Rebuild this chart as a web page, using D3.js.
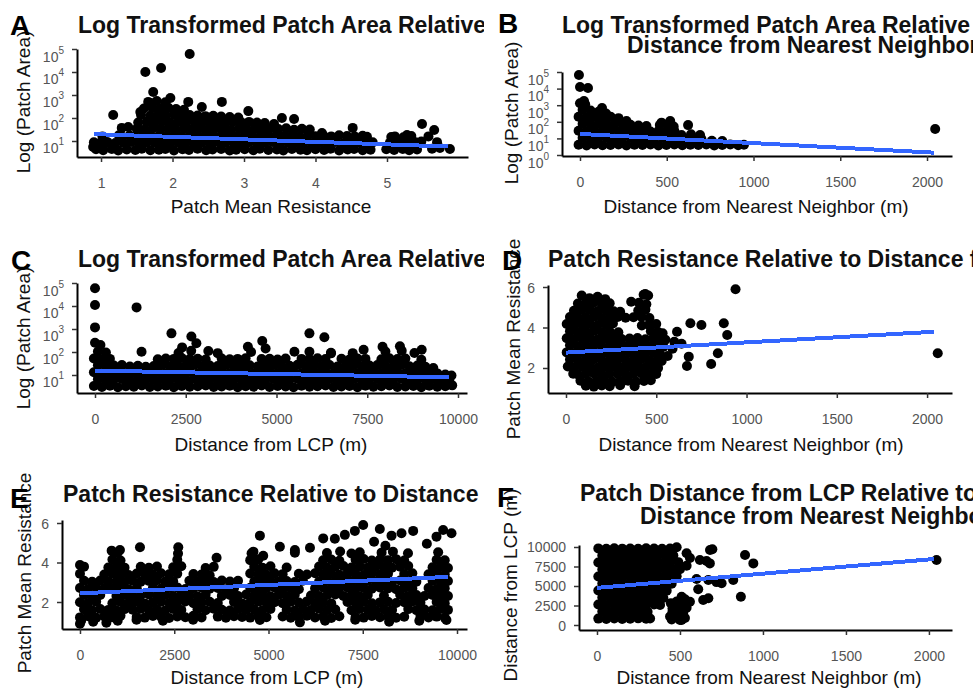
<!DOCTYPE html>
<html>
<head>
<meta charset="utf-8">
<script src="https://cdn.jsdelivr.net/npm/d3@7"></script>
<style>
  body { margin: 0; background: #fff; }
  svg { display: block; font-family: "Liberation Sans", Arial, sans-serif; }
</style>
</head>
<body>
<svg id="fig" width="973" height="688"></svg>
<script>
// ---------------- data ----------------
// Panel A: [patch mean resistance, log10 patch area]
const resistanceLogArea = [
[0.93,0.64],[1.03,0.60],[1.15,0.65],[1.24,0.59],[1.36,0.63],[1.48,0.61],[1.57,0.66],[1.69,0.60],[1.81,0.62],[1.90,0.65],[2.02,0.59],[2.14,0.64],[2.23,0.61],[2.35,0.66],[2.47,0.60],[2.56,0.63],[2.68,0.65],[2.80,0.59],[2.89,0.62],[3.01,0.64],[3.13,0.60],[3.22,0.66],[3.34,0.61],[3.46,0.63],[3.55,0.59],[3.67,0.65],[3.79,0.62],[3.88,0.60],[4.00,0.64],[4.12,0.61],[4.21,0.66],[4.33,0.59],[4.45,0.63],[4.54,0.65],[4.66,0.60],[4.77,0.62],[4.99,0.64],[5.10,0.61],[5.22,0.65],[5.31,0.60],[5.42,0.63],[5.63,0.66],[5.74,0.70],
[0.90,0.94],[0.98,0.90],[1.09,0.95],[1.20,0.91],[1.31,0.93],[1.42,0.96],[1.53,0.90],[1.64,0.94],[1.75,0.92],[1.86,0.96],[1.97,0.89],[2.08,0.93],[2.19,0.95],[2.30,0.91],[2.41,0.94],[2.52,0.90],[2.63,0.96],[2.74,0.92],[2.85,0.93],[2.96,0.89],[3.07,0.95],[3.18,0.91],[3.29,0.94],[3.40,0.96],[3.51,0.90],[3.62,0.93],[3.73,0.92],[3.84,0.95],[3.95,0.89],[4.06,0.94],[4.17,0.91],[4.28,0.96],[4.39,0.90],[4.50,0.93],[4.61,0.95],[4.72,0.91],[4.80,0.94],[5.04,0.92],[5.15,0.96],[5.26,0.90],[5.37,0.94],[5.48,0.98],
[1.02,1.20],[1.29,1.21],[1.40,1.24],[1.47,1.19],[1.58,1.23],[1.69,1.25],[1.80,1.20],[1.91,1.22],[2.02,1.25],[2.13,1.19],[2.24,1.23],[2.35,1.21],[2.46,1.25],[2.57,1.20],[2.68,1.24],[2.79,1.22],[2.90,1.19],[3.01,1.25],[3.12,1.21],[3.23,1.23],[3.34,1.20],[3.45,1.24],[3.56,1.22],[3.67,1.25],[3.78,1.19],[3.89,1.23],[4.00,1.21],[4.11,1.24],[4.22,1.20],[4.33,1.25],[4.44,1.22],[4.55,1.19],[4.66,1.23],[4.72,1.18],[5.11,1.20],[5.23,1.16],[5.34,1.22],
[1.50,1.53],[1.61,1.50],[1.72,1.54],[1.83,1.51],[1.94,1.55],[2.05,1.49],[2.16,1.53],[2.27,1.51],[2.38,1.55],[2.49,1.50],[2.60,1.54],[2.71,1.52],[2.82,1.49],[2.93,1.55],[3.04,1.51],[3.15,1.53],[3.26,1.50],[3.37,1.54],[3.48,1.52],[3.59,1.55],[3.70,1.49],[3.81,1.53],[3.92,1.50],
[1.52,1.80],[1.64,1.84],[1.75,1.81],[1.86,1.85],[1.97,1.79],[2.08,1.83],[2.19,1.81],[2.30,1.85],[2.41,1.80],[2.52,1.84],[2.63,1.82],[2.74,1.79],[2.85,1.85],[2.96,1.81],[3.07,1.83],[3.18,1.80],[3.29,1.78],[3.42,1.74],
[1.56,2.13],[1.69,2.10],[1.80,2.14],[1.91,2.11],[2.02,2.15],[2.13,2.09],[2.24,2.13],[2.35,2.11],[2.46,2.08],[2.57,2.10],[2.68,2.06],[2.80,2.04],[2.92,2.02],
[1.60,2.41],[1.72,2.44],[1.83,2.40],[1.94,2.45],[2.05,2.39],[2.16,2.36],
[1.66,2.70],[1.78,2.74],[1.90,2.68],
[2.24,4.78],[1.62,4.00],[1.84,4.17],[1.17,2.13],[1.73,3.13],[1.69,2.65],[1.97,2.87],[2.22,2.70],[2.41,2.48],[2.69,2.70],[3.06,2.30],[3.53,2.00],[3.70,1.96],[5.49,1.74],[5.66,1.48],[5.06,1.17],[5.28,1.26],[5.88,0.65],[0.89,0.74],[1.29,1.57],[1.38,1.61],[1.55,2.26],[4.52,1.57],[4.09,1.35],[5.58,1.20],[5.70,0.95],[5.40,0.95],[1.25,1.25],[1.08,0.95]
];

// Panel B: [distance from nearest neighbor (m), log10 patch area]
const neighborLogArea = [
[-8,0.62],[38,0.58],[84,0.63],[130,0.59],[176,0.61],[222,0.64],[268,0.58],[314,0.62],[360,0.60],[406,0.63],[452,0.58],[498,0.61],[544,0.64],[590,0.59],[636,0.62],[682,0.60],[728,0.63],[774,0.58],[820,0.61],[866,0.64],[912,0.59],[945,0.62],
[15,1.04],[61,1.00],[107,1.03],[153,1.05],[199,0.99],[245,1.02],[291,1.04],[337,1.00],[383,1.03],[429,1.01],[475,1.05],[521,0.99],[560,1.02],[610,0.98],[660,1.00],[700,0.96],[760,0.86],[820,0.84],
[-8,1.46],[38,1.42],[84,1.45],[130,1.41],[176,1.47],[222,1.43],[268,1.44],[314,1.40],[360,1.46],[406,1.42],[452,1.45],[498,1.41],[544,1.44],[585,1.20],[640,1.25],
[15,1.88],[61,1.84],[107,1.87],[153,1.83],[199,1.89],[245,1.85],[291,1.82],[337,1.78],[383,1.74],[460,1.80],[505,1.84],[540,1.72],
[-8,2.30],[38,2.26],[84,2.29],[130,2.25],[176,2.31],[222,2.22],[268,2.05],
[15,2.72],[61,2.68],[107,2.60],[150,2.50],
[0,3.12],[30,3.05],
[-6,4.82],[0,4.10],[46,4.04],[23,3.25],[127,2.83],[623,1.80],[692,1.20],[2047,1.57],[520,2.05],[470,1.95]
];

// Panel C: [distance from LCP (m), log10 patch area]
const lcpLogArea = [
[-30,0.52],[190,0.48],[410,0.53],[630,0.47],[850,0.51],[1070,0.49],[1290,0.54],[1510,0.48],[1730,0.50],[1950,0.53],[2170,0.47],[2390,0.52],[2610,0.49],[2830,0.51],[3050,0.54],[3270,0.48],[3490,0.50],[3710,0.53],[3930,0.47],[4150,0.51],[4370,0.49],[4590,0.54],[4810,0.48],[5030,0.52],[5250,0.50],[5470,0.47],[5690,0.53],[5910,0.49],[6130,0.51],[6350,0.54],[6570,0.48],[6790,0.50],[7010,0.52],[7230,0.47],[7450,0.53],[7670,0.49],[7890,0.51],[8110,0.54],[8330,0.48],[8550,0.50],[8770,0.52],[8990,0.47],[9210,0.53],[9430,0.49],[9650,0.51],[9840,0.55],
[80,0.82],[300,0.78],[520,0.81],[740,0.83],[960,0.77],[1180,0.80],[1400,0.82],[1620,0.79],[1840,0.83],[2060,0.78],[2280,0.81],[2500,0.80],[2720,0.84],[2940,0.77],[3160,0.81],[3380,0.79],[3600,0.83],[3820,0.78],[4040,0.80],[4260,0.82],[4480,0.77],[4700,0.81],[4920,0.83],[5140,0.79],[5360,0.80],[5580,0.84],[5800,0.78],[6020,0.81],[6240,0.79],[6460,0.83],[6680,0.77],[6900,0.80],[7120,0.82],[7340,0.78],[7560,0.81],[7780,0.83],[8000,0.79],[8220,0.80],[8440,0.84],[8660,0.78],[8880,0.81],[9100,0.79],[9320,0.83],[9540,0.80],[9760,0.82],
[-30,1.12],[190,1.08],[410,1.11],[630,1.13],[850,1.07],[1070,1.10],[1290,1.12],[1510,1.09],[1730,1.13],[1950,1.08],[2170,1.11],[2390,1.10],[2610,1.14],[2830,1.07],[3050,1.11],[3270,1.09],[3490,1.13],[3710,1.08],[3930,1.10],[4150,1.12],[4370,1.07],[4590,1.11],[4810,1.13],[5030,1.09],[5250,1.10],[5470,1.14],[5690,1.08],[5910,1.11],[6130,1.09],[6350,1.13],[6570,1.07],[6790,1.10],[7010,1.12],[7230,1.08],[7450,1.11],[7670,1.13],[7890,1.09],[8110,1.10],[8330,1.14],[8550,1.08],[8770,1.11],[8990,1.09],[9210,1.13],[9430,1.07],[9650,1.02],[9820,0.98],
[80,1.42],[300,1.38],[520,1.41],[740,1.43],[960,1.37],[1180,1.40],[1400,1.36],[1620,1.39],[1840,1.43],[2060,1.38],[2280,1.41],[2500,1.40],[2720,1.44],[2940,1.37],[3160,1.41],[3380,1.39],[3600,1.43],[3820,1.38],[4040,1.40],[4260,1.42],[4480,1.37],[4700,1.41],[4920,1.43],[5140,1.39],[5360,1.40],[5580,1.44],[5800,1.38],[6020,1.41],[6240,1.39],[6460,1.43],[6680,1.37],[6900,1.40],[7120,1.42],[7340,1.38],[7560,1.41],[7780,1.43],[8000,1.39],[8220,1.40],[8440,1.44],[8660,1.38],[8880,1.41],[9100,1.36],[9320,1.30],
[-30,1.72],[190,1.68],[410,1.70],[1730,1.68],[1950,1.72],[2170,1.70],[2390,1.74],[2610,1.69],[2830,1.71],[3050,1.67],[3490,1.72],[3710,1.68],[3930,1.70],[4150,1.73],[4590,1.69],[4810,1.71],[5030,1.67],[5250,1.72],[5690,1.70],[5910,1.68],[6130,1.73],[6350,1.69],[6790,1.71],[7010,1.67],[7230,1.72],[7450,1.70],[7890,1.68],[8110,1.73],[8330,1.69],[8550,1.72],[8990,1.66],
[80,2.02],[300,1.98],[2300,1.96],[2650,2.05],[3380,1.95],[4300,2.00],[6500,1.97],[7100,1.95],[8000,2.02],[8450,2.05],[8800,1.96],
[0,4.77],[0,4.04],[0,3.07],[1145,3.94],[1282,2.01],[2106,2.81],[2655,2.67],[2793,2.38],[4607,2.48],[5907,2.81],[5907,2.01],[6319,2.64],[5494,2.01],[6502,1.94],[7921,2.23],[4212,2.23],[0,2.40],[150,2.30],[3122,2.04],[8400,2.25],[9000,2.10],[2400,2.20],[7400,2.10],[4700,2.15]
];

// Panel D: [distance from nearest neighbor (m), patch mean resistance]
const neighborResistance = [
[87,5.58],[130,5.45],[175,5.52],[217,5.40],[430,5.62],[455,5.58],
[66,5.18],[110,5.21],[154,5.24],[198,5.17],[242,5.20],[361,5.27],[404,5.22],[445,5.15],
[44,4.83],[88,4.86],[132,4.88],[176,4.82],[220,4.85],[264,4.80],[300,4.78],[400,4.84],[440,4.88],
[22,4.52],[66,4.48],[110,4.51],[154,4.53],[198,4.47],[242,4.50],[286,4.52],[330,4.48],[374,4.51],[418,4.53],[462,4.47],
[4,4.17],[44,4.13],[88,4.16],[132,4.18],[176,4.12],[220,4.15],[260,4.20],[420,4.10],[460,4.13],[500,4.17],
[22,3.82],[66,3.78],[110,3.81],[154,3.83],[198,3.77],[242,3.80],[290,3.76],[470,3.82],[510,3.78],[535,3.72],
[4,3.47],[44,3.43],[88,3.46],[132,3.48],[176,3.42],[220,3.45],[264,3.47],[308,3.43],[352,3.46],[396,3.48],[440,3.42],[484,3.45],[528,3.47],[550,3.40],
[22,3.12],[66,3.08],[110,3.11],[154,3.13],[198,3.07],[242,3.10],[286,3.12],[330,3.08],[374,3.11],[418,3.13],[462,3.07],[506,3.10],[540,3.05],
[4,2.77],[44,2.73],[88,2.76],[132,2.78],[176,2.72],[220,2.75],[264,2.77],[308,2.73],[352,2.76],[396,2.78],[440,2.72],[484,2.75],[520,2.70],
[22,2.42],[66,2.38],[110,2.41],[154,2.43],[198,2.37],[242,2.40],[286,2.42],[330,2.38],[374,2.41],[418,2.43],[462,2.37],[506,2.40],[530,2.35],
[10,2.07],[44,2.03],[88,2.06],[132,2.08],[176,2.02],[220,2.05],[264,2.07],[308,2.03],[352,2.06],[396,2.08],[440,2.02],[484,2.05],[510,2.00],
[40,1.72],[66,1.68],[110,1.71],[154,1.73],[198,1.67],[242,1.70],[286,1.72],[330,1.68],[374,1.71],[418,1.73],[462,1.67],[500,1.70],
[80,1.37],[124,1.33],[168,1.36],[212,1.38],[256,1.32],[300,1.35],[344,1.37],[388,1.33],[432,1.36],[470,1.40],
[110,1.12],[154,1.08],[198,1.14],[242,1.10],[300,1.15],[380,1.10],
[939,5.89],[689,4.21],[750,4.12],[874,4.21],[893,3.63],[841,2.73],[804,2.20],[2059,2.73],[615,3.79],[680,2.56],[670,2.10],[563,2.59],[439,5.65],[504,3.05],[600,3.30],[640,3.20],[590,2.95]
];

// Panel E: [distance from LCP (m), patch mean resistance]
const lcpResistance = [
[0,1.22],[215,1.28],[430,1.20],[645,1.27],[860,1.23],[1075,1.30],[1505,1.24],[1720,1.21],[1935,1.29],[2150,1.25],[2365,1.19],[2580,1.27],[2795,1.23],[3010,1.30],[3225,1.22],[3655,1.26],[3870,1.20],[4085,1.28],[4300,1.24],[4515,1.21],[4730,1.29],[4945,1.23],[5375,1.27],[5590,1.20],[5805,1.25],[6020,1.30],[6235,1.22],[6450,1.26],[6665,1.19],[6880,1.28],[7310,1.24],[7525,1.21],[7740,1.29],[7955,1.23],[8170,1.27],[8385,1.20],[8600,1.25],[9030,1.30],[9245,1.22],[9460,1.26],[9675,1.21],
[107,1.63],[322,1.58],[537,1.65],[752,1.60],[967,1.57],[1182,1.64],[1397,1.61],[1612,1.66],[1827,1.59],[2042,1.62],[2257,1.57],[2472,1.65],[2687,1.60],[3117,1.63],[3332,1.58],[3547,1.66],[3762,1.61],[3977,1.57],[4192,1.64],[4407,1.60],[4622,1.62],[4837,1.58],[5052,1.65],[5482,1.61],[5697,1.57],[5912,1.64],[6127,1.60],[6342,1.66],[6557,1.59],[6772,1.62],[7202,1.58],[7417,1.65],[7632,1.61],[7847,1.57],[8062,1.63],[8277,1.60],[8707,1.64],[8922,1.59],[9137,1.62],[9352,1.58],[9567,1.65],[9760,1.60],
[0,1.99],[215,1.95],[430,2.01],[860,1.94],[1075,2.00],[1290,1.96],[1505,2.02],[1720,1.93],[1935,1.98],[2150,2.01],[2365,1.95],[2580,1.99],[2795,2.03],[3010,1.94],[3225,1.97],[3440,2.01],[3655,1.95],[4085,2.00],[4300,1.93],[4515,1.98],[4730,2.02],[4945,1.96],[5160,1.99],[5375,1.94],[5590,2.01],[5805,1.97],[6020,2.03],[6235,1.95],[6450,1.99],[6665,1.93],[7095,2.00],[7310,1.96],[7525,2.02],[7740,1.94],[7955,1.98],[8170,2.01],[8385,1.95],[8600,1.99],[8815,2.03],[9030,1.96],[9460,2.00],[9675,1.94],
[107,2.35],[322,2.30],[537,2.36],[967,2.31],[1182,2.37],[1397,2.29],[1612,2.34],[1827,2.38],[2042,2.32],[2257,2.35],[2472,2.30],[2687,2.36],[2902,2.33],[3117,2.29],[3332,2.37],[3762,2.31],[3977,2.35],[4192,2.30],[4407,2.38],[4622,2.32],[4837,2.34],[5052,2.29],[5267,2.36],[5482,2.31],[5697,2.37],[6127,2.33],[6342,2.30],[6557,2.35],[6772,2.38],[6987,2.31],[7202,2.34],[7417,2.29],[7632,2.36],[8062,2.32],[8492,2.37],[8707,2.31],[8922,2.35],[9137,2.30],[9352,2.36],[9567,2.33],[9760,2.30],
[0,2.71],[215,2.66],[430,2.73],[645,2.68],[860,2.70],[1075,2.74],[1290,2.65],[1505,2.69],[1935,2.72],[2150,2.67],[2365,2.71],[2580,2.74],[2795,2.66],[3010,2.70],[3225,2.73],[3440,2.67],[3655,2.71],[3870,2.65],[4085,2.69],[4515,2.72],[4730,2.66],[4945,2.70],[5160,2.74],[5375,2.67],[5590,2.71],[5805,2.65],[6235,2.69],[6450,2.73],[6665,2.68],[6880,2.70],[7095,2.74],[7310,2.66],[7525,2.71],[7740,2.67],[7955,2.73],[8170,2.69],[8385,2.65],[8600,2.72],[8815,2.68],[9245,2.71],[9460,2.66],[9675,2.70],
[107,3.07],[322,3.02],[537,3.09],[752,3.04],[967,3.06],[1182,3.01],[1397,3.08],[1612,3.03],[1827,3.07],[2042,3.10],[2257,3.02],[2472,3.05],[2902,3.08],[3117,3.03],[3332,3.06],[3547,3.01],[3762,3.09],[3977,3.04],[4192,3.07],[4622,3.02],[4837,3.05],[5052,3.09],[5267,3.03],[5482,3.06],[5697,3.01],[5912,3.08],[6342,3.04],[6557,3.07],[6772,3.02],[6987,3.10],[7202,3.05],[7417,3.03],[7632,3.08],[7847,3.04],[8062,3.06],[8277,3.01],[8492,3.09],[8707,3.05],[8922,3.03],[9352,3.07],[9567,3.02],[9760,3.06],
[0,3.43],[645,3.39],[860,3.45],[1075,3.40],[1290,3.37],[1505,3.44],[1720,3.41],[1935,3.38],[2150,3.46],[2365,3.40],[2580,3.43],[3010,3.42],[3225,3.39],[3440,3.35],[4515,3.44],[4730,3.40],[4945,3.38],[5160,3.45],[5375,3.41],[5805,3.43],[6020,3.39],[6235,3.46],[6450,3.40],[6665,3.42],[6880,3.38],[7095,3.44],[7310,3.41],[7525,3.37],[7740,3.45],[7955,3.40],[8170,3.43],[8600,3.42],[8815,3.46],[9245,3.40],[9460,3.44],[9675,3.39],
[107,3.79],[752,3.75],[967,3.80],[1182,3.74],[1612,3.78],[1827,3.73],[2042,3.80],[2472,3.76],[2687,3.81],[3332,3.72],[3547,3.78],[4622,3.79],[4837,3.74],[5052,3.81],[5482,3.75],[6342,3.80],[6557,3.73],[6772,3.78],[6987,3.82],[7202,3.75],[7417,3.79],[7632,3.74],[7847,3.80],[8062,3.77],[8277,3.73],[8492,3.79],[8707,3.82],[9352,3.76],[9567,3.80],[9760,3.72],
[860,4.15],[1075,4.10],[2580,4.14],[4515,4.12],[4730,4.16],[6450,4.11],[6665,4.15],[6880,4.09],[7310,4.14],[7525,4.18],[7740,4.10],[7955,4.15],[8170,4.12],[8385,4.17],[8600,4.10],[9460,4.14],[9675,4.11],
[1000,4.50],[2600,4.45],[4600,4.55],[5700,4.50],[6550,4.48],[6900,4.56],[7200,4.46],[7420,4.52],[8000,4.50],[8300,4.55],[8700,4.47],[9500,4.52],
[7511,5.90],[7953,5.70],[7291,5.60],[7025,5.40],[6760,5.20],[8837,5.60],[8528,5.48],[8263,5.36],[9632,5.65],[9854,5.48],[9456,5.31],[4772,5.36],[6451,5.22],[5302,4.80],[5700,4.63],[4551,4.47],[4860,4.34],[3623,4.24],[2607,4.77],[1591,4.77],[840,4.60],[1060,4.63],[0,3.87],[4772,1.09],[5833,0.97],[9720,1.09],[3932,1.48],[0,0.90],[30,1.05],[350,1.00],[700,0.95],[1000,1.05],[1500,1.10],[2200,1.05],[3000,1.10],[6500,1.05],[7300,1.10],[8200,1.00],[9000,1.05],[7800,5.05],[8100,4.85],[9200,4.95],[6100,4.75]
];

// Panel F: [distance from nearest neighbor (m), distance from LCP (m)]
const neighborLcp = [
[8,9820],[56,9780],[104,9840],[152,9790],[200,9810],[248,9770],[296,9830],[344,9800],[392,9760],[440,9800],[480,9960],[540,9190],
[32,8920],[80,8880],[128,8940],[176,8870],[224,8910],[272,8950],[320,8890],[368,8930],[416,8870],[460,8920],
[8,8020],[56,7980],[104,8040],[152,7970],[200,8010],[248,8050],[296,7990],[344,8030],[392,7960],[440,8000],[490,8060],
[32,7120],[80,7080],[128,7140],[176,7070],[224,7110],[272,7150],[320,7090],[368,7130],[416,7060],[460,7100],[500,7140],
[8,6220],[56,6180],[104,6240],[152,6170],[200,6210],[248,6250],[296,6190],[344,6230],[392,6160],[440,6200],[480,6240],
[32,5320],[80,5280],[128,5340],[176,5270],[224,5310],[272,5350],[320,5290],[368,5330],[416,5260],[450,5300],
[8,4420],[56,4380],[104,4440],[152,4370],[200,4410],[248,4450],[296,4390],[344,4430],[392,4360],[420,4400],
[32,3520],[80,3480],[128,3540],[176,3470],[224,3510],[272,3550],[320,3490],[368,3530],[400,3460],
[8,2620],[56,2580],[104,2640],[152,2570],[200,2610],[248,2650],[296,2590],[344,2630],[380,2560],
[32,1720],[80,1680],[128,1740],[176,1670],[224,1710],[272,1750],[305,1690],
[8,820],[56,780],[104,840],[152,770],[200,810],[248,850],[296,790],[320,830],
[450,700],[500,640],[530,900],[440,1100],[470,1400],[520,1600],[455,2100],[505,2500],[540,2200],[480,3000],[530,3300],[445,2800],[500,1950],[455,1700],
[695,9700],[892,8970],[942,7900],[620,8330],[680,7900],[751,5350],[821,5770],[671,5770],[610,4580],[671,3420],[867,3630],[560,2990],[510,3630],[510,640],[470,1920],[681,9620],[2046,8330],[660,8200],[600,5900],[720,5500],[640,3200],[560,8600],[540,7600]
];

// Linear fit lines (endpoints of each fitted trend)
const fitA = [[0.90,1.30],[5.85,0.76]];
const fitB = [[0,1.27],[2040,0.14]];
const fitC = [[0,1.19],[9750,0.90]];
const fitD = [[0,2.76],[2040,3.79]];
const fitE = [[0,2.44],[9765,3.27]];
const fitF = [[0,4760],[2030,8460]];

// Tick values
const resistanceTicks = [1, 2, 3, 4, 5];
const neighborTicks = [0, 500, 1000, 1500, 2000];
const lcpTicks = [0, 2500, 5000, 7500, 10000];
const logAreaTicks = [1, 2, 3, 4, 5];
const logAreaTicksFull = [0, 1, 2, 3, 4, 5];
const resistanceAxisTicks = [2, 4, 6];
const lcpAxisTicks = [0, 2500, 5000, 7500, 10000];

// ---------------- layout ----------------
const panels = [
  { letter: "A", side: "left", points: resistanceLogArea, fit: fitA,
    xDomain: [0.664, 6.133], xRange: [77, 468], yDomain: [0.304, 5.0], yRange: [157, 49],
    xTicks: resistanceTicks, yTicks: logAreaTicks, logY: true,
    titles: [["Log Transformed Patch Area Relative to Patch Mean Resistance", 78, 33]],
    letterPos: [10, 35], xTitle: ["Patch Mean Resistance", 271, 213], yTitle: ["Log (Patch Area)", 30, 102] },
  { letter: "B", side: "right", points: neighborLogArea, fit: fitB,
    xDomain: [-103.7, 2144], xRange: [562, 952], yDomain: [-0.06, 5.0], yRange: [156, 72],
    xTicks: neighborTicks, yTicks: logAreaTicksFull, logY: true,
    titles: [["Log Transformed Patch Area Relative to the", 562, 33], ["Distance from Nearest Neighbor", 627, 53]],
    letterPos: [498, 33], xTitle: ["Distance from Nearest Neighbor (m)", 756, 213], yTitle: ["Log (Patch Area)", 518, 113] },
  { letter: "C", side: "left", points: lcpLogArea, fit: fitC,
    xDomain: [-496, 10248], xRange: [77, 467], yDomain: [0.217, 5.0], yRange: [393, 283],
    xTicks: lcpTicks, yTicks: logAreaTicks, logY: true,
    titles: [["Log Transformed Patch Area Relative to Distance from LCP", 78, 267]],
    letterPos: [11, 270], xTitle: ["Distance from LCP (m)", 271, 451], yTitle: ["Log (Patch Area)", 30, 338] },
  { letter: "D", side: "right", points: neighborResistance, fit: fitD,
    xDomain: [-99.7, 2138], xRange: [548, 952], yDomain: [0.765, 6.099], yRange: [393, 285],
    xTicks: neighborTicks, yTicks: resistanceAxisTicks, logY: false,
    titles: [["Patch Resistance Relative to Distance from Nearest Neighbor", 548, 267]],
    letterPos: [502, 270], xTitle: ["Distance from Nearest Neighbor (m)", 751, 451], yTitle: ["Patch Mean Resistance", 520, 339] },
  { letter: "E", side: "left", points: lcpResistance, fit: fitE,
    xDomain: [-477, 10265], xRange: [62, 467], yDomain: [0.633, 6.152], yRange: [629, 520],
    xTicks: lcpTicks, yTicks: resistanceAxisTicks, logY: false,
    titles: [["Patch Resistance Relative to Distance from LCP", 63, 502]],
    letterPos: [10, 508], xTitle: ["Distance from LCP (m)", 267, 684], yTitle: ["Patch Mean Resistance", 31, 573] },
  { letter: "F", side: "right", points: neighborLcp, fit: fitF,
    xDomain: [-108.4, 2139], xRange: [579, 952], yDomain: [-641, 10256], yRange: [630, 545],
    xTicks: neighborTicks, yTicks: lcpAxisTicks, logY: false,
    titles: [["Patch Distance from LCP Relative to the", 580, 501], ["Distance from Nearest Neighbor", 640, 524]],
    letterPos: [497, 507], xTitle: ["Distance from Nearest Neighbor (m)", 769, 684], yTitle: ["Distance from LCP (m)", 517, 585] }
];

const svg = d3.select("#fig");
const defs = svg.append("defs");
defs.append("clipPath").attr("id", "clip-left")
  .append("rect").attr("x", 0).attr("y", 0).attr("width", 484).attr("height", 688);
defs.append("clipPath").attr("id", "clip-right")
  .append("rect").attr("x", 486).attr("y", 0).attr("width", 487).attr("height", 688);

const tickColor = "#555";

function drawPanel(p) {
  const g = svg.append("g").attr("clip-path", `url(#clip-${p.side})`);
  const x = d3.scaleLinear().domain(p.xDomain).range(p.xRange);
  const y = d3.scaleLinear().domain(p.yDomain).range(p.yRange);

  // scatter points
  g.append("g").selectAll("circle").data(p.points).join("circle")
    .attr("cx", d => x(d[0])).attr("cy", d => y(d[1]))
    .attr("r", 5).attr("fill", "#000");

  // fitted trend line
  g.append("path").datum(p.fit)
    .attr("fill", "none").attr("stroke", "#3366ff").attr("stroke-width", 4)
    .attr("shape-rendering", "crispEdges")
    .attr("d", d3.line().x(d => x(d[0])).y(d => y(d[1])));

  // x axis
  const xa = g.append("g").attr("transform", `translate(0,${p.yRange[0]})`)
    .call(d3.axisBottom(x).tickValues(p.xTicks).tickSize(5).tickSizeOuter(0).tickFormat(d3.format("d")));
  xa.attr("font-family", null).attr("font-size", null);
  xa.select(".domain").attr("stroke", "#000").attr("stroke-width", 2);
  xa.selectAll(".tick line").attr("stroke", "#333").attr("stroke-width", 1.5);
  xa.selectAll(".tick text").attr("y", 31).attr("dy", null)
    .attr("fill", tickColor).style("font-size", "14px");

  // y axis
  const ya = g.append("g").attr("transform", `translate(${p.xRange[0]},0)`)
    .call(d3.axisLeft(y).tickValues(p.yTicks).tickSize(5).tickSizeOuter(0).tickPadding(8)
      .tickFormat(d3.format("d")));
  ya.attr("font-family", null).attr("font-size", null);
  ya.select(".domain").attr("stroke", "#000").attr("stroke-width", 2);
  ya.selectAll(".tick line").attr("stroke", "#333").attr("stroke-width", 1.5);
  const yt = ya.selectAll(".tick text").attr("fill", tickColor).style("font-size", "14px").attr("dy", null);
  if (p.logY) {
    yt.attr("y", 12).each(function (d) {
      const t = d3.select(this);
      t.text(null);
      t.append("tspan").text("10");
      t.append("tspan").attr("dy", -8).style("font-size", "10px").text(d);
    });
  } else {
    yt.attr("y", 5);
  }

  // titles
  p.titles.forEach(([txt, tx, ty]) => {
    g.append("text").attr("x", tx).attr("y", ty)
      .attr("font-weight", "bold").attr("font-size", 23).attr("fill", "#111")
      .text(txt);
  });

  // axis titles
  g.append("text").attr("x", p.xTitle[1]).attr("y", p.xTitle[2])
    .attr("text-anchor", "middle").attr("font-size", 19).attr("fill", "#111")
    .text(p.xTitle[0]);
  g.append("text").attr("transform", `translate(${p.yTitle[1]},${p.yTitle[2]}) rotate(-90)`)
    .attr("text-anchor", "middle").attr("font-size", 19).attr("fill", "#111")
    .text(p.yTitle[0]);

  // panel tag
  g.append("text").attr("x", p.letterPos[0]).attr("y", p.letterPos[1])
    .attr("font-weight", "bold").attr("font-size", 28).attr("fill", "#000")
    .text(p.letter);
}

panels.forEach(drawPanel);
</script>
</body>
</html>
